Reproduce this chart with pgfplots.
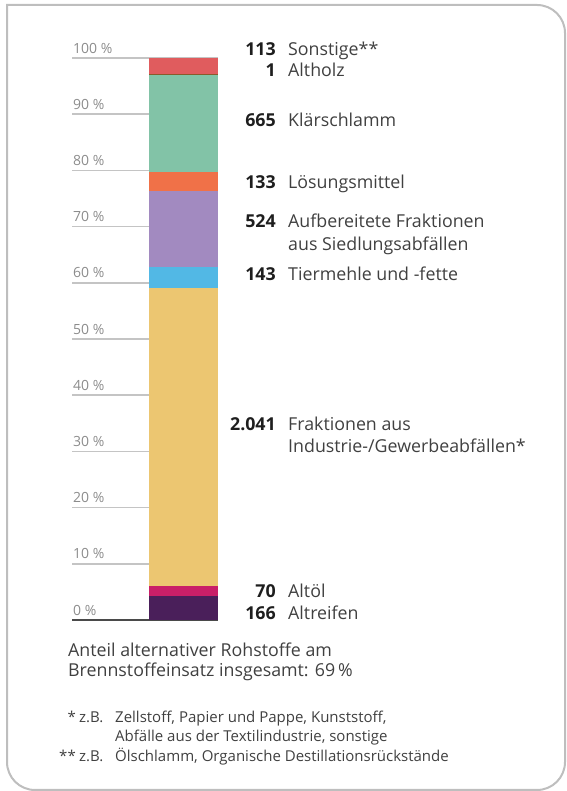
\documentclass[border=0pt]{standalone}
\usepackage{pgfplots}
\pgfplotsset{compat=1.18}
\usepackage{fontspec}
\setmainfont{Open Sans}
\definecolor{frame}{HTML}{BEBEBE}
\definecolor{gridc}{HTML}{C4C4C4}
\definecolor{tickc}{HTML}{8C8C8C}
\definecolor{basec}{HTML}{4A4A4A}
\definecolor{txt}{HTML}{404040}
\definecolor{num}{HTML}{1E1E1E}
\definecolor{cA}{HTML}{4A1F5A}
\definecolor{cB}{HTML}{C91F68}
\definecolor{cC}{HTML}{ECC671}
\definecolor{cD}{HTML}{52B8E5}
\definecolor{cE}{HTML}{A28AC0}
\definecolor{cF}{HTML}{F07148}
\definecolor{cG}{HTML}{82C3A7}
\definecolor{cH}{HTML}{8B5A2B}
\definecolor{cI}{HTML}{E05C5E}
\newcommand{\lab}{\fontsize{17.8}{20}\selectfont}
\newcommand{\foot}{\fontsize{15}{17}\selectfont}
\begin{document}
\begin{tikzpicture}
\useasboundingbox (0pt,0pt) rectangle (566pt,791pt);
\draw[frame, line width=2pt] (7pt,786pt) -- (537pt,786pt) arc[start angle=90,end angle=0,radius=28pt] -- (565pt,29pt) arc[start angle=0,end angle=-90,radius=28pt] -- (35pt,1pt) arc[start angle=270,end angle=180,radius=28pt] -- cycle;
\begin{axis}[
  at={(72pt,171pt)}, anchor=south west,
  scale only axis, width=146pt, height=562pt,
  xmin=0, xmax=146, ymin=0, ymax=100,
  axis x line*=bottom, axis y line*=left,
  x axis line style={draw=basec, line width=1.6pt, -},
  y axis line style={draw=none},
  xtick=\empty,
  ytick={0,10,...,100},
  ytick style={draw=none},
  ymajorgrids, grid style={draw=gridc, line width=1.5pt},
  /pgf/number format/assume math mode=true,
  yticklabel={\pgfmathprintnumber{\tick}~\%},
  yticklabel style={anchor=south west, inner sep=0pt, xshift=1pt, yshift=4.5pt, text=tickc, font=\fontsize{14}{14}\selectfont},
  ybar stacked, bar width=69pt,
]
\addplot[fill=cA, draw=none] coordinates {(111.5,4.305)};   % Altreifen 166
\addplot[fill=cB, draw=none] coordinates {(111.5,1.815)};   % Altoel 70
\addplot[fill=cC, draw=none] coordinates {(111.5,52.930)};  % Fraktionen 2041
\addplot[fill=cD, draw=none] coordinates {(111.5,3.709)};   % Tiermehle 143
\addplot[fill=cE, draw=none] coordinates {(111.5,13.589)};  % Aufbereitete 524
\addplot[fill=cF, draw=none] coordinates {(111.5,3.449)};   % Loesungsmittel 133
\addplot[fill=cG, draw=none] coordinates {(111.5,17.246)};  % Klaerschlamm 665
\addplot[fill=cH, draw=none] coordinates {(111.5,0.026)};   % Altholz 1
\addplot[fill=cI, draw=none] coordinates {(111.5,2.930)};   % Sonstige 113
\end{axis}
\begin{scope}[every node/.style={inner sep=0pt}]
\foreach \n/\t/\y in {113/Sonstige**/735, 1/Altholz/714, 665/Klärschlamm/664, 133/Lösungsmittel/602, 524/Aufbereitete Fraktionen/563, 143/Tiermehle und -fette/510, 2.041/Fraktionen aus/360, 70/Altöl/193, 166/Altreifen/171}{
  \node[anchor=base east, text=num, font=\lab\bfseries] at (276pt,\y pt) {\n};
  \node[anchor=base west, text=txt, font=\lab] at (288pt,\y pt) {\t};
}
\node[anchor=base west, text=txt, font=\lab] at (288pt,540pt) {aus Siedlungsabfällen};
\node[anchor=base west, text=txt, font=\lab] at (288pt,338pt) {Industrie-/Gewerbeabfällen*};
\node[anchor=base west, text=txt, font=\lab] at (68pt,134pt) {Anteil alternativer Rohstoffe am};
\node[anchor=base west, text=txt, font=\lab] at (68pt,114pt) {Brennstoffeinsatz insgesamt: 69\,\%};
\node[anchor=base east, text=txt, font=\foot] at (76pt,68pt) {*};
\node[anchor=base west, text=txt, font=\foot] at (79pt,68pt) {z.B.};
\node[anchor=base west, text=txt, font=\foot] at (115pt,68pt) {Zellstoff, Papier und Pappe, Kunststoff,};
\node[anchor=base west, text=txt, font=\foot] at (115pt,49pt) {Abfälle aus der Textilindustrie, sonstige};
\node[anchor=base east, text=txt, font=\foot] at (76pt,29pt) {**};
\node[anchor=base west, text=txt, font=\foot] at (79pt,29pt) {z.B.};
\node[anchor=base west, text=txt, font=\foot] at (115pt,29pt) {Ölschlamm, Organische Destillationsrückstände};
\end{scope}
\end{tikzpicture}
\end{document}
